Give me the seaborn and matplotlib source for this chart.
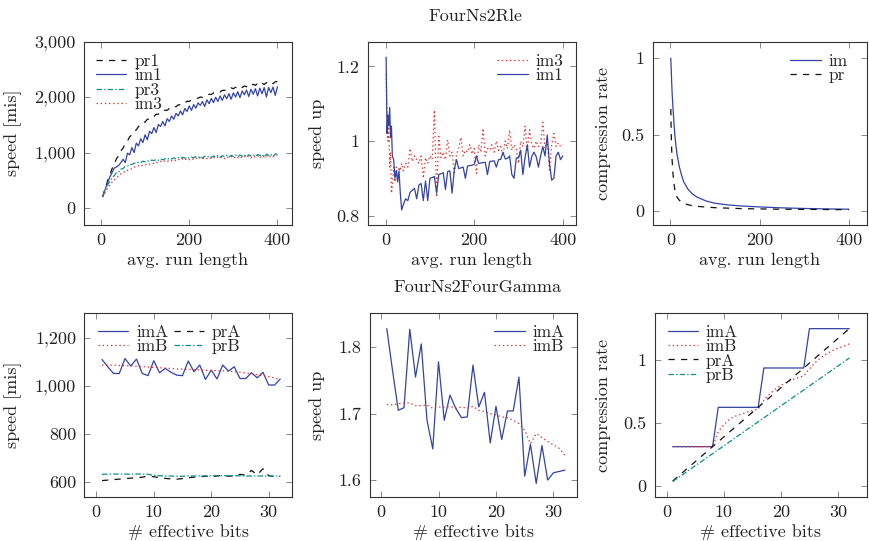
import matplotlib
matplotlib.use("Agg")
import matplotlib.pyplot as plt
import seaborn as sns
from matplotlib.ticker import FuncFormatter

# ── data: FourNs2Rle, speed [mis] vs avg. run length ────────────────
run_len = [
    4, 8, 12, 16, 20, 25, 30, 35, 40, 45,
    50, 55, 60, 65, 70, 75, 80, 85, 90, 95,
    100, 105, 110, 115, 120, 125, 130, 135, 140, 145,
    150, 155, 160, 165, 170, 175, 180, 185, 190, 195,
    200, 205, 210, 215, 220, 225, 230, 235, 240, 245,
    250, 255, 260, 265, 270, 275, 280, 285, 290, 295,
    300, 305, 310, 315, 320, 325, 330, 335, 340, 345,
    350, 355, 360, 365, 370, 375, 380, 385, 390, 395,
    400,
]
pr1_speed = [
    200, 330, 410, 520, 590, 710, 790, 890, 940, 1030,
    1080, 1165, 1210, 1285, 1320, 1385, 1410, 1470, 1490, 1540,
    1550, 1600, 1600, 1645, 1650, 1690, 1690, 1730, 1730, 1765,
    1760, 1795, 1790, 1825, 1825, 1860, 1860, 1895, 1890, 1925,
    1920, 1950, 1955, 1975, 1980, 2000, 1995, 2020, 2030, 2050,
    2045, 2075, 2080, 2100, 2090, 2120, 2120, 2140, 2130, 2165,
    2150, 2175, 2160, 2190, 2170, 2200, 2185, 2215, 2195, 2230,
    2210, 2245, 2215, 2250, 2225, 2260, 2235, 2265, 2240, 2275,
    2280,
]
im1_speed = [
    210, 300, 400, 480, 560, 640, 720, 740, 770, 820,
    880, 820, 990, 960, 1090, 1000, 1170, 1120, 1250, 1180,
    1320, 1230, 1385, 1340, 1450, 1360, 1505, 1470, 1560, 1480,
    1610, 1560, 1660, 1600, 1705, 1660, 1750, 1680, 1795, 1740,
    1840, 1760, 1865, 1800, 1895, 1850, 1920, 1830, 1950, 1880,
    1975, 1900, 1995, 1920, 2020, 1940, 2040, 1970, 2060, 1960,
    2075, 2000, 2095, 1990, 2110, 2040, 2125, 2010, 2140, 2050,
    2150, 2020, 2160, 2060, 2170, 2000, 2175, 2080, 2180, 2030,
    2185,
]
pr3_speed = [
    210, 290, 370, 430, 480, 545, 585, 640, 650, 700,
    715, 750, 755, 785, 785, 810, 805, 830, 820, 845,
    835, 855, 845, 865, 855, 875, 860, 885, 870, 890,
    875, 900, 885, 905, 890, 910, 895, 915, 900, 915,
    900, 920, 905, 925, 910, 930, 900, 935, 915, 935,
    910, 940, 920, 945, 915, 945, 925, 950, 920, 950,
    930, 955, 925, 955, 935, 960, 920, 960, 940, 960,
    930, 965, 945, 965, 920, 970, 950, 970, 925, 975,
    970,
]
im3_speed = [
    200, 260, 320, 370, 410, 470, 505, 560, 570, 620,
    630, 675, 680, 710, 705, 740, 735, 765, 750, 780,
    775, 800, 790, 815, 805, 830, 815, 845, 830, 855,
    840, 865, 850, 875, 855, 880, 860, 890, 865, 895,
    870, 895, 875, 905, 880, 910, 885, 910, 890, 915,
    890, 915, 895, 920, 900, 925, 890, 925, 905, 930,
    895, 930, 910, 935, 900, 935, 915, 940, 905, 940,
    915, 945, 900, 945, 920, 950, 910, 950, 925, 950,
    955,
]

# ── data: FourNs2Rle, speed up vs avg. run length ───────────────────
run_len_su = [
    1, 3, 5, 7, 9, 11, 13, 15, 18, 21, 24, 27, 30, 33, 36,
    40, 45, 50, 55, 60, 65, 70, 75, 80, 85,
    90, 95, 100, 105, 110, 115, 120, 125, 130, 135,
    140, 145, 150, 155, 160, 165, 170, 175, 180, 185,
    190, 195, 200, 205, 210, 215, 220, 225, 230, 235,
    240, 245, 250, 255, 260, 265, 270, 275, 280, 285,
    290, 295, 300, 305, 310, 315, 320, 325, 330, 335,
    340, 345, 350, 355, 360, 365, 370, 375, 380, 385,
    390, 395, 400,
]
im1_speedup = [
    1.225, 1.02, 1.07, 1.04, 1.09, 1.01, 1.04, 0.96, 0.95, 0.90, 0.92, 0.89, 0.92, 0.86, 0.815,
    0.83, 0.845, 0.84, 0.862, 0.868, 0.873, 0.845, 0.882, 0.886, 0.84,
    0.893, 0.84, 0.90, 0.902, 0.905, 0.86, 0.91, 0.912, 0.915, 0.87,
    0.918, 0.92, 0.86, 0.923, 0.95, 0.926, 0.928, 0.93, 0.90, 0.933,
    0.934, 0.935, 0.937, 0.96, 0.94, 0.941, 0.942, 0.943, 0.91, 0.945,
    0.946, 0.947, 0.93, 0.95, 0.951, 0.97, 0.952, 0.953, 0.96, 0.91,
    0.90, 0.954, 0.955, 0.975, 0.91, 0.957, 0.99, 0.93, 0.958, 0.97,
    0.958, 0.93, 0.96, 0.985, 0.96, 1.016, 0.94, 0.895, 0.90, 0.96,
    0.97, 0.95, 0.96,
]
im3_speedup = [
    1.18, 1.06, 1.00, 1.05, 0.93, 0.97, 0.86, 0.88, 0.93, 0.89, 0.93, 0.90, 0.93, 0.92, 0.94,
    0.92, 0.94, 0.93, 0.98, 0.945, 0.96, 0.95, 0.94, 0.96, 0.90,
    0.955, 0.94, 0.96, 0.95, 1.083, 0.85, 1.012, 0.955, 0.97, 0.95,
    1.003, 0.96, 0.97, 0.91, 0.965, 0.98, 1.01, 0.96, 0.975, 0.97,
    0.99, 0.965, 0.98, 0.913, 0.99, 0.97, 1.034, 0.96, 0.98, 0.975,
    0.99, 0.97, 1.00, 0.975, 0.985, 0.96, 1.00, 0.98, 1.03, 0.975,
    0.99, 0.98, 0.94, 1.00, 0.985, 1.04, 0.975, 1.03, 0.99, 0.98,
    1.00, 0.985, 0.99, 1.05, 0.98, 1.00, 0.922, 0.99, 1.02, 0.985,
    0.995, 0.985, 0.99,
]

# ── data: FourNs2Rle, compression rate vs avg. run length ───────────
run_len_cr = [1, 2, 3, 4, 6, 8, 10, 12, 15, 20, 25, 30, 40, 50, 60, 80,
              100, 130, 160, 200, 250, 300, 350, 400]
im_rate = [1.0, 0.92, 0.84, 0.77, 0.67, 0.58, 0.50, 0.44, 0.37, 0.29, 0.235, 0.19,
           0.14, 0.11, 0.09, 0.065, 0.05, 0.039, 0.032, 0.026, 0.02, 0.016, 0.013, 0.011]
pr_rate = [0.667, 0.50, 0.40, 0.33, 0.24, 0.18, 0.14, 0.115, 0.09, 0.07, 0.058, 0.05,
           0.04, 0.034, 0.03, 0.025, 0.021, 0.018, 0.015, 0.013, 0.011, 0.01, 0.009, 0.008]

# ── data: FourNs2FourGamma (x = # effective bits) ───────────────────
bits = list(range(1, 33))
imA_speed = [1109, 1079, 1051, 1051, 1113, 1082, 1111, 1051, 1042, 1104,
             1054, 1072, 1056, 1044, 1042, 1103, 1058, 1086, 1026, 1065,
             1028, 1086, 1061, 1079, 1030, 1030, 1054, 1033, 1056, 1003,
             1003, 1028]
imB_speed = [1086, 1085, 1086, 1084, 1083, 1083, 1081, 1080, 1078, 1076,
             1075, 1073, 1072, 1070, 1069, 1068, 1067, 1066, 1064, 1063,
             1063, 1062, 1061, 1059, 1056, 1053, 1050, 1046, 1042, 1038,
             1032, 1025]
prA_speed = [606, 608, 610, 612, 614, 616, 618, 620, 625, 622,
             618, 615, 613, 612, 614, 618, 620, 622, 624, 622,
             625, 628, 624, 626, 632, 628, 648, 630, 655, 626,
             622, 624]
prB_speed = [632, 633, 633, 633, 633, 632, 633, 633, 632, 628,
             626, 625, 625, 624, 624, 625, 625, 625, 625, 626,
             626, 626, 626, 626, 626, 625, 625, 625, 625, 625,
             625, 625]

imA_speedup = [1.828, 1.765, 1.705, 1.709, 1.827, 1.755, 1.805, 1.690, 1.647, 1.778,
               1.690, 1.728, 1.708, 1.694, 1.695, 1.773, 1.710, 1.732, 1.656, 1.711,
               1.661, 1.704, 1.704, 1.755, 1.606, 1.654, 1.595, 1.652, 1.600, 1.611,
               1.613, 1.615]
imB_speedup = [1.714, 1.713, 1.715, 1.716, 1.716, 1.712, 1.712, 1.713, 1.708, 1.710,
               1.710, 1.711, 1.708, 1.710, 1.708, 1.711, 1.705, 1.703, 1.700, 1.698,
               1.695, 1.694, 1.690, 1.685, 1.675, 1.655, 1.670, 1.664, 1.658, 1.653,
               1.648, 1.637]

imA_rate = [0.3125] * 8 + [0.625] * 8 + [0.9375] * 8 + [1.25] * 8
imB_rate = [0.3125, 0.3125, 0.3125, 0.3125, 0.3125, 0.3125, 0.3125, 0.3125, 0.43, 0.49,
            0.53, 0.555, 0.57, 0.585, 0.60, 0.61, 0.68, 0.73, 0.77, 0.80,
            0.825, 0.845, 0.86, 0.875, 0.93, 0.98, 1.02, 1.05, 1.075, 1.095,
            1.11, 1.13]
prA_rate = [0.039, 0.078, 0.117, 0.156, 0.195, 0.234, 0.273, 0.3125, 0.352, 0.391,
            0.43, 0.469, 0.508, 0.547, 0.586, 0.625, 0.664, 0.703, 0.742, 0.781,
            0.82, 0.859, 0.898, 0.9375, 0.977, 1.016, 1.055, 1.094, 1.133, 1.172,
            1.211, 1.25]
prB_rate = [0.035, 0.067, 0.098, 0.13, 0.162, 0.193, 0.225, 0.257, 0.288, 0.32,
            0.352, 0.383, 0.415, 0.447, 0.478, 0.51, 0.542, 0.573, 0.605, 0.637,
            0.668, 0.70, 0.732, 0.763, 0.795, 0.827, 0.858, 0.89, 0.922, 0.953,
            0.985, 1.017]

# ── styles (pgfplots look) ──────────────────────────────────────────
BLUE, RED, TEAL, BLACK = "#3343a6", "#e8302c", "#0a8f8f", "#111111"
S_SOLID = dict(color=BLUE, linestyle="-", linewidth=0.9)
S_DOT = dict(color=RED, linestyle=(0, (1, 2)), linewidth=0.9)
S_DASH = dict(color=BLACK, linestyle=(0, (4.5, 4.5)), linewidth=0.9)
S_DASHDOT = dict(color=TEAL, linestyle=(0, (4, 1.5, 1, 1.5)), linewidth=0.9)

sns.set_theme(style="ticks")
plt.rcParams["font.family"] = ["cmr10", "DejaVu Serif"]
plt.rcParams["mathtext.fontset"] = "cm"
plt.rcParams["axes.formatter.use_mathtext"] = True
plt.rcParams["lines.scale_dashes"] = False

W, H = 870, 541
fig = plt.figure(figsize=(W / 100, H / 100), dpi=100)


def make_ax(left, right, top, bottom):
    return fig.add_axes([left / W, 1 - bottom / H, (right - left) / W, (bottom - top) / H])


def style_ax(ax, xlim, ylim, xticks, yticks, fmt, xlabel, ylabel, ylab_x, xlab_y):
    ax.set_xlim(*xlim)
    ax.set_ylim(*ylim)
    ax.set_xticks(xticks)
    ax.set_yticks(yticks)
    ax.yaxis.set_major_formatter(FuncFormatter(fmt))
    ax.xaxis.set_major_formatter(FuncFormatter(lambda v, p: f"{v:g}"))
    ax.tick_params(direction="in", top=True, right=True, length=4, width=0.6,
                   color="#777777", labelsize=13, pad=6, labelcolor="#222222")
    for sp in ax.spines.values():
        sp.set_color("#333333")
        sp.set_linewidth(0.8)
    ax.set_xlabel(xlabel, fontsize=13, color="#222222")
    ax.set_ylabel(ylabel, fontsize=13, color="#222222")
    ax.yaxis.set_label_coords(ylab_x, 0.5)
    ax.xaxis.set_label_coords(0.5, xlab_y)
    ax.xaxis.label.set_va("top")


def line(ax, x, y, label, sty):
    sns.lineplot(x=x, y=y, ax=ax, label=label, estimator=None, legend=False, **sty)


def legend(ax, order, loc, anchor, ncol=1):
    h, l = ax.get_legend_handles_labels()
    idx = [l.index(o) for o in order]
    ax.legend([h[i] for i in idx], [l[i] for i in idx], loc=loc, bbox_to_anchor=anchor,
              frameon=False, fontsize=12.5, handlelength=1.75, handletextpad=0.45,
              labelspacing=-0.05, borderpad=0, borderaxespad=0, ncol=ncol,
              columnspacing=0.3)


comma = lambda v, p: f"{v:,.0f}"
plain = lambda v, p: f"{v:g}"

# ── top row: FourNs2Rle ─────────────────────────────────────────────
ax1 = make_ax(84, 292, 41.5, 224.5)
line(ax1, run_len, pr1_speed, "pr1", S_DASH)
line(ax1, run_len, im1_speed, "im1", S_SOLID)
line(ax1, run_len, pr3_speed, "pr3", S_DASHDOT)
line(ax1, run_len, im3_speed, "im3", S_DOT)
style_ax(ax1, (-38.6, 433), (-295, 3000), [0, 200, 400], [0, 1000, 2000, 3000], comma,
         "avg. run length", "speed [mis]", -0.298, -0.155)
legend(ax1, ["pr1", "im1", "pr3", "im3"], "upper left", (0.058, 0.935))

ax2 = make_ax(368, 576, 41.5, 224.5)
line(ax2, run_len_su, im3_speedup, "im3", S_DOT)
line(ax2, run_len_su, im1_speedup, "im1", S_SOLID)
style_ax(ax2, (-40, 430), (0.776, 1.267), [0, 200, 400], [0.8, 1, 1.2], plain,
         "avg. run length", "speed up", -0.207, -0.155)
legend(ax2, ["im3", "im1"], "upper right", (0.94, 0.935))

ax3 = make_ax(653, 867, 41.5, 224.5)
line(ax3, run_len_cr, im_rate, "im", S_SOLID)
line(ax3, run_len_cr, pr_rate, "pr", S_DASH)
style_ax(ax3, (-38.9, 440.8), (-0.089, 1.109), [0, 200, 400], [0, 0.5, 1], plain,
         "avg. run length", "compression rate", -0.196, -0.155)
legend(ax3, ["im", "pr"], "upper right", (0.91, 0.935))

fig.text(475 / W, 1 - 16 / H, "FourNs2Rle", ha="center", va="center", fontsize=13,
         color="#222222")

# ── bottom row: FourNs2FourGamma ────────────────────────────────────
ax4 = make_ax(84.5, 292, 313.3, 496.7)
line(ax4, bits, imA_speed, "imA", S_SOLID)
line(ax4, bits, imB_speed, "imB", S_DOT)
line(ax4, bits, prA_speed, "prA", S_DASH)
line(ax4, bits, prB_speed, "prB", S_DASHDOT)
style_ax(ax4, (-2.05, 34.05), (539, 1301), [0, 10, 20, 30], [600, 800, 1000, 1200], comma,
         "# effective bits", "speed [mis]", -0.301, -0.15)
legend(ax4, ["imA", "imB", "prA", "prB"], "upper left", (0.065, 0.94), ncol=2)

ax5 = make_ax(370, 577, 313.3, 496.7)
line(ax5, bits, imA_speedup, "imA", S_SOLID)
line(ax5, bits, imB_speedup, "imB", S_DOT)
style_ax(ax5, (-1.92, 34.1), (1.575, 1.851), [0, 10, 20, 30], [1.6, 1.7, 1.8], plain,
         "# effective bits", "speed up", -0.217, -0.15)
legend(ax5, ["imA", "imB"], "upper right", (0.94, 0.94))

ax6 = make_ax(655, 867, 313.3, 496.7)
line(ax6, bits, imA_rate, "imA", S_SOLID)
line(ax6, bits, imB_rate, "imB", S_DOT)
line(ax6, bits, prA_rate, "prA", S_DASH)
line(ax6, bits, prB_rate, "prB", S_DASHDOT)
style_ax(ax6, (-2.1, 35.1), (-0.085, 1.372), [0, 10, 20, 30], [0, 0.5, 1], plain,
         "# effective bits", "compression rate", -0.2075, -0.15)
legend(ax6, ["imA", "imB", "prA", "prB"], "upper left", (0.06, 0.94))

fig.text(477 / W, 1 - 287.5 / H, "FourNs2FourGamma", ha="center", va="center",
         fontsize=13, color="#222222")

fig.savefig("out.png", dpi=100)
